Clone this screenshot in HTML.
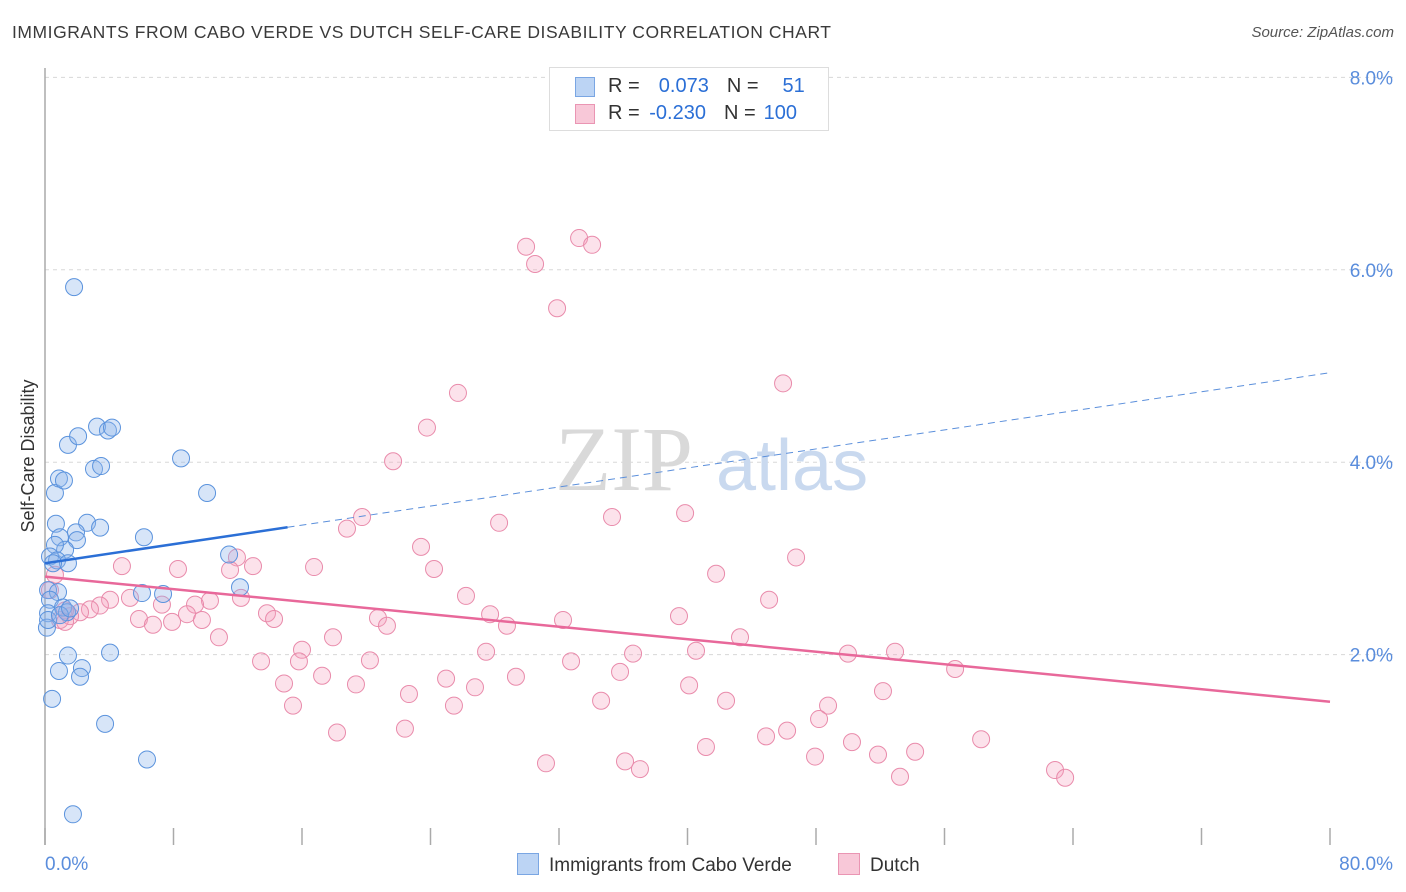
<!DOCTYPE html>
<html><head><meta charset="utf-8"><style>
body{margin:0;background:#fff;font-family:"Liberation Sans",sans-serif;}
#wrap{position:relative;width:1406px;height:892px;overflow:hidden;}
.t{position:absolute;white-space:nowrap;}
</style></head><body>
<div id="wrap">
<div class="t" style="left:12px;top:22px;font-size:17.5px;letter-spacing:0.55px;color:#3a3a3a;">IMMIGRANTS FROM CABO VERDE VS DUTCH SELF-CARE DISABILITY CORRELATION CHART</div>
<div class="t" style="right:12px;top:24px;font-size:15px;color:#555;font-style:italic;">Source: ZipAtlas.com</div>
<svg id="plot" width="1406" height="892" style="position:absolute;left:0;top:0"></svg>
</div>
<script>
const xTicks=[0,8,16,24,32,40,48,56,64,72,80];
const yTicks=[2,4,6,8];
const blueX=[1.81,1.43,2.06,3.24,3.92,4.17,0.62,0.87,1.18,3.05,3.49,8.47,10.09,0.68,0.93,2.62,1.93,3.43,6.16,1.99,1.25,0.62,0.31,0.75,1.43,0.50,11.46,12.14,0.19,0.81,6.04,7.35,0.31,0.19,1.12,1.37,0.12,1.43,2.30,2.18,0.87,4.05,0.44,3.74,6.35,1.74,0.19,0.93,1.56];
const blueY=[5.82,4.18,4.27,4.37,4.33,4.36,3.68,3.83,3.81,3.93,3.96,4.04,3.68,3.36,3.22,3.37,3.27,3.32,3.22,3.19,3.09,3.14,3.02,2.98,2.95,2.95,3.04,2.70,2.67,2.65,2.64,2.63,2.57,2.43,2.49,2.44,2.28,1.99,1.86,1.77,1.83,2.02,1.54,1.28,0.91,0.34,2.36,2.41,2.48];
const pinkX=[33.25,29.95,34.06,30.51,31.88,45.95,25.71,23.78,21.67,19.74,18.80,28.27,35.30,39.85,23.41,46.76,4.79,8.28,11.95,12.95,16.75,24.22,41.78,11.52,26.21,45.08,5.29,10.27,12.20,7.28,9.34,13.82,14.26,20.73,21.29,27.71,32.25,39.47,28.76,4.05,3.42,2.80,2.18,1.56,0.93,5.85,6.72,7.91,8.84,9.77,10.83,17.93,43.27,16.00,27.46,36.61,40.53,49.99,52.92,13.45,15.81,20.23,32.75,56.66,35.80,14.88,17.25,19.36,24.97,26.77,29.32,40.10,52.17,22.66,15.44,25.46,34.62,42.40,48.75,48.19,18.18,22.41,44.89,46.20,50.24,58.28,41.15,54.17,47.94,51.86,31.19,36.11,37.04,53.23,62.88,63.51,1.25,0.31,0.62,1.25];
const pinkY=[6.33,6.24,6.26,6.06,5.60,4.82,4.72,4.36,4.01,3.43,3.31,3.37,3.43,3.47,3.12,3.01,2.92,2.89,3.01,2.92,2.91,2.89,2.84,2.88,2.61,2.57,2.59,2.56,2.59,2.52,2.52,2.43,2.37,2.38,2.30,2.42,2.36,2.40,2.30,2.57,2.51,2.47,2.44,2.40,2.36,2.37,2.31,2.34,2.42,2.36,2.18,2.18,2.18,2.05,2.03,2.01,2.04,2.01,2.03,1.93,1.93,1.94,1.93,1.85,1.82,1.70,1.78,1.69,1.75,1.66,1.77,1.68,1.62,1.59,1.47,1.47,1.52,1.52,1.47,1.33,1.19,1.23,1.15,1.21,1.09,1.12,1.04,0.99,0.94,0.96,0.87,0.89,0.81,0.73,0.80,0.72,2.46,2.67,2.83,2.34];
const blueTrend=[2.95,4.93]; // y at x=0 and x=80
const blueSolidEnd=15.1;
const pinkTrend=[2.81,1.51];

const NS="http://www.w3.org/2000/svg";
const svg=document.getElementById('plot');
const X=v=>45+v/80*1285;
const Y=v=>847-v*96.2;
function mk(tag,attrs,parent){const e=document.createElementNS(NS,tag);for(const k in attrs)e.setAttribute(k,attrs[k]);(parent||svg).appendChild(e);return e;}

yTicks.forEach(t=>{
  const g=mk('line',{x1:45,x2:1393,y1:Y(t),y2:Y(t),stroke:'#d8d8d8','stroke-dasharray':'4,4'});
  
  
  const l=mk('text',{x:1393,y:Y(t)+7,'text-anchor':'end','font-size':19,fill:'#5a8ddc','font-family':'Liberation Sans'});
  l.textContent=t.toFixed(1)+'%';
  
  
});
const ax=mk('line',{x1:45,x2:45,y1:68,y2:845,stroke:'#aaa','stroke-width':1.5});


xTicks.forEach(t=>{
  const k=mk('line',{x1:X(t),x2:X(t),y1:828,y2:845,stroke:'#aaa','stroke-width':1.5});
  
  
});
[[0,'start',45],[80,'end',1393]].forEach(([t,a,px])=>{
  const l=mk('text',{x:px,y:870,'text-anchor':a,'font-size':19,fill:'#5a8ddc','font-family':'Liberation Sans'});
  l.textContent=t.toFixed(1)+'%';
  
  
});
const yt=mk('text',{x:0,y:0,transform:'translate(34,456) rotate(-90)','text-anchor':'middle','font-size':18,fill:'#333','font-family':'Liberation Sans'});
yt.textContent='Self-Care Disability';



const wm=mk('text',{x:555,y:490,'font-size':92,fill:'#d9d9d9','font-family':'Liberation Serif'});
wm.textContent='ZIP';


const wm2=mk('text',{x:716,y:490,'font-size':72,fill:'#c9d9ef','font-family':'Liberation Sans'});
wm2.textContent='atlas';



pinkX.forEach((v,i)=>{
  const c=mk('circle',{cx:X(v),cy:Y(pinkY[i]),r:8.5,fill:'rgba(244,160,190,0.3)',stroke:'#e98bab','stroke-width':1});
  
  
});
blueX.forEach((v,i)=>{
  const c=mk('circle',{cx:X(v),cy:Y(blueY[i]),r:8.5,fill:'rgba(140,180,235,0.35)',stroke:'#5b93dd','stroke-width':1});
  
  
});
const by=x=>blueTrend[0]+(blueTrend[1]-blueTrend[0])*x/80;
const bs=mk('line',{x1:X(0),y1:Y(by(0)),x2:X(blueSolidEnd),y2:Y(by(blueSolidEnd)),stroke:'#2b6fd6','stroke-width':2.5});


const bd=mk('line',{x1:X(blueSolidEnd),y1:Y(by(blueSolidEnd)),x2:X(80),y2:Y(by(80)),stroke:'#5b8fdb','stroke-width':1,'stroke-dasharray':'7,5'});


const pl=mk('line',{x1:X(0),y1:Y(pinkTrend[0]),x2:X(80),y2:Y(pinkTrend[1]),stroke:'#e8689a','stroke-width':2.5});


</script>
<div class="t" style="left:549px;top:67px;width:278px;height:62px;border:1px solid #ddd;background:#fff;font-size:20px;">
  <div style="position:absolute;left:25px;top:9px;width:18px;height:18px;background:#bcd4f4;border:1px solid #7aa6e3;"></div>
  <div class="t" style="left:58px;top:7px;color:#333;">R = <span style="color:#2b6fd6;margin-left:8px;">&nbsp;0.073</span><span style="color:#333;margin-left:18px;">N =</span><span style="color:#2b6fd6;margin-left:24px;">51</span></div>
  <div style="position:absolute;left:25px;top:36px;width:18px;height:18px;background:#f8c8d8;border:1px solid #ea95b3;"></div>
  <div class="t" style="left:58px;top:34px;color:#333;">R = <span style="color:#2b6fd6;margin-left:4px;">-0.230</span><span style="color:#333;margin-left:18px;">N =</span><span style="color:#2b6fd6;margin-left:8px;">100</span></div>
</div>
<div class="t" style="left:517px;top:853px;font-size:19px;color:#333;"><span style="display:inline-block;width:20px;height:20px;background:#bcd4f4;border:1px solid #7aa6e3;vertical-align:-4px;margin-right:10px;"></span>Immigrants from Cabo Verde</div>
<div class="t" style="left:838px;top:853px;font-size:19px;color:#333;"><span style="display:inline-block;width:20px;height:20px;background:#f8c8d8;border:1px solid #ea95b3;vertical-align:-4px;margin-right:10px;"></span>Dutch</div>
</body></html>
